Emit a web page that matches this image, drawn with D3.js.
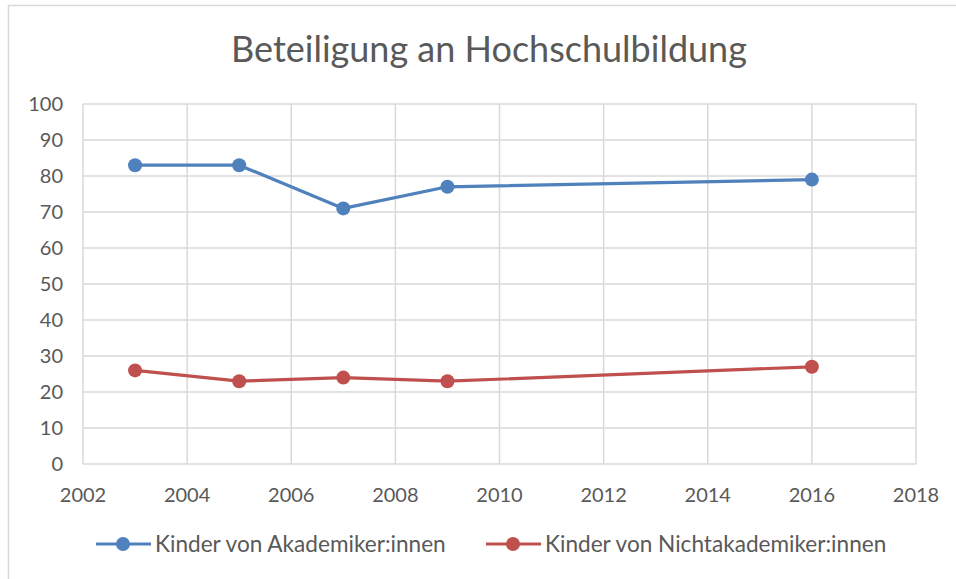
<!DOCTYPE html>
<html>
<head>
<meta charset="utf-8">
<script src="https://cdn.jsdelivr.net/npm/d3@7"></script>
<style>
  body { margin: 0; background: #fff; }
  svg text { font-family: Lato, "Open Sans", sans-serif; fill: #595959; }
</style>
</head>
<body>
<div id="chart"></div>
<script>
// data
var years = [2003, 2005, 2007, 2009, 2016];
var akademiker = [83, 83, 71, 77, 79];
var nichtAkademiker = [26, 23, 24, 23, 27];
var seriesNames = ["Kinder von Akademiker:innen", "Kinder von Nichtakademiker:innen"];
var seriesColors = ["#4f81bd", "#c0504d"];
var xTicks = [2002, 2004, 2006, 2008, 2010, 2012, 2014, 2016, 2018];
var yTicks = [0, 10, 20, 30, 40, 50, 60, 70, 80, 90, 100];

var width = 956, height = 579;
var plot = { left: 83, right: 916, top: 104, bottom: 464 };

var svg = d3.select("#chart").append("svg")
    .attr("width", width)
    .attr("height", height);

// outer frame (only top and left edges are inside the picture)
svg.append("rect")
    .attr("x", 8.5).attr("y", 5.5)
    .attr("width", width + 20).attr("height", height + 20)
    .attr("fill", "#fff")
    .attr("stroke", "#d9d9d9")
    .attr("stroke-width", 1.5);

var x = d3.scaleLinear().domain([2002, 2018]).range([plot.left, plot.right]);
var y = d3.scaleLinear().domain([0, 100]).range([plot.bottom, plot.top]);

// grid
svg.append("g").selectAll("line").data(yTicks).join("line")
    .attr("x1", plot.left).attr("x2", plot.right)
    .attr("y1", d => y(d)).attr("y2", d => y(d))
    .attr("stroke", "#d9d9d9").attr("stroke-width", 1.5);

svg.append("g").selectAll("line").data(xTicks).join("line")
    .attr("x1", d => x(d)).attr("x2", d => x(d))
    .attr("y1", plot.top).attr("y2", plot.bottom)
    .attr("stroke", "#d9d9d9").attr("stroke-width", 1.5);

// axis labels
svg.append("g").selectAll("text").data(yTicks).join("text")
    .attr("x", 63)
    .attr("y", d => y(d))
    .attr("dy", "0.36em")
    .attr("text-anchor", "end")
    .style("font-size", "20px")
    .text(d => d);

svg.append("g").selectAll("text").data(xTicks).join("text")
    .attr("x", d => x(d))
    .attr("y", 502)
    .attr("text-anchor", "middle")
    .style("font-size", "20px")
    .text(d => d);

// title
svg.append("text")
    .attr("x", 489)
    .attr("y", 62)
    .attr("text-anchor", "middle")
    .style("font-size", "36px")
    .text("Beteiligung an Hochschulbildung");

// lines + markers
var line = d3.line()
    .x(d => x(d.year))
    .y(d => y(d.value));

[akademiker, nichtAkademiker].forEach(function(values, i) {
    var pts = years.map((yr, j) => ({ year: yr, value: values[j] }));
    svg.append("path")
        .datum(pts)
        .attr("fill", "none")
        .attr("stroke", seriesColors[i])
        .attr("stroke-width", 3.2)
        .attr("stroke-linejoin", "round")
        .attr("d", line);
    svg.append("g").selectAll("circle").data(pts).join("circle")
        .attr("cx", d => x(d.year))
        .attr("cy", d => y(d.value))
        .attr("r", 7)
        .attr("fill", seriesColors[i]);
});

// legend
var legendX = [96, 486];
seriesNames.forEach(function(name, i) {
    var g = svg.append("g").attr("transform", "translate(" + legendX[i] + ",544)");
    g.append("line")
        .attr("x1", 0).attr("x2", 55)
        .attr("stroke", seriesColors[i]).attr("stroke-width", 3.2);
    g.append("circle").attr("cx", 27).attr("r", 7).attr("fill", seriesColors[i]);
    g.append("text")
        .attr("x", 59)
        .attr("dy", "0.36em")
        .style("font-size", "22.6px")
        .text(name);
});
</script>
</body>
</html>
